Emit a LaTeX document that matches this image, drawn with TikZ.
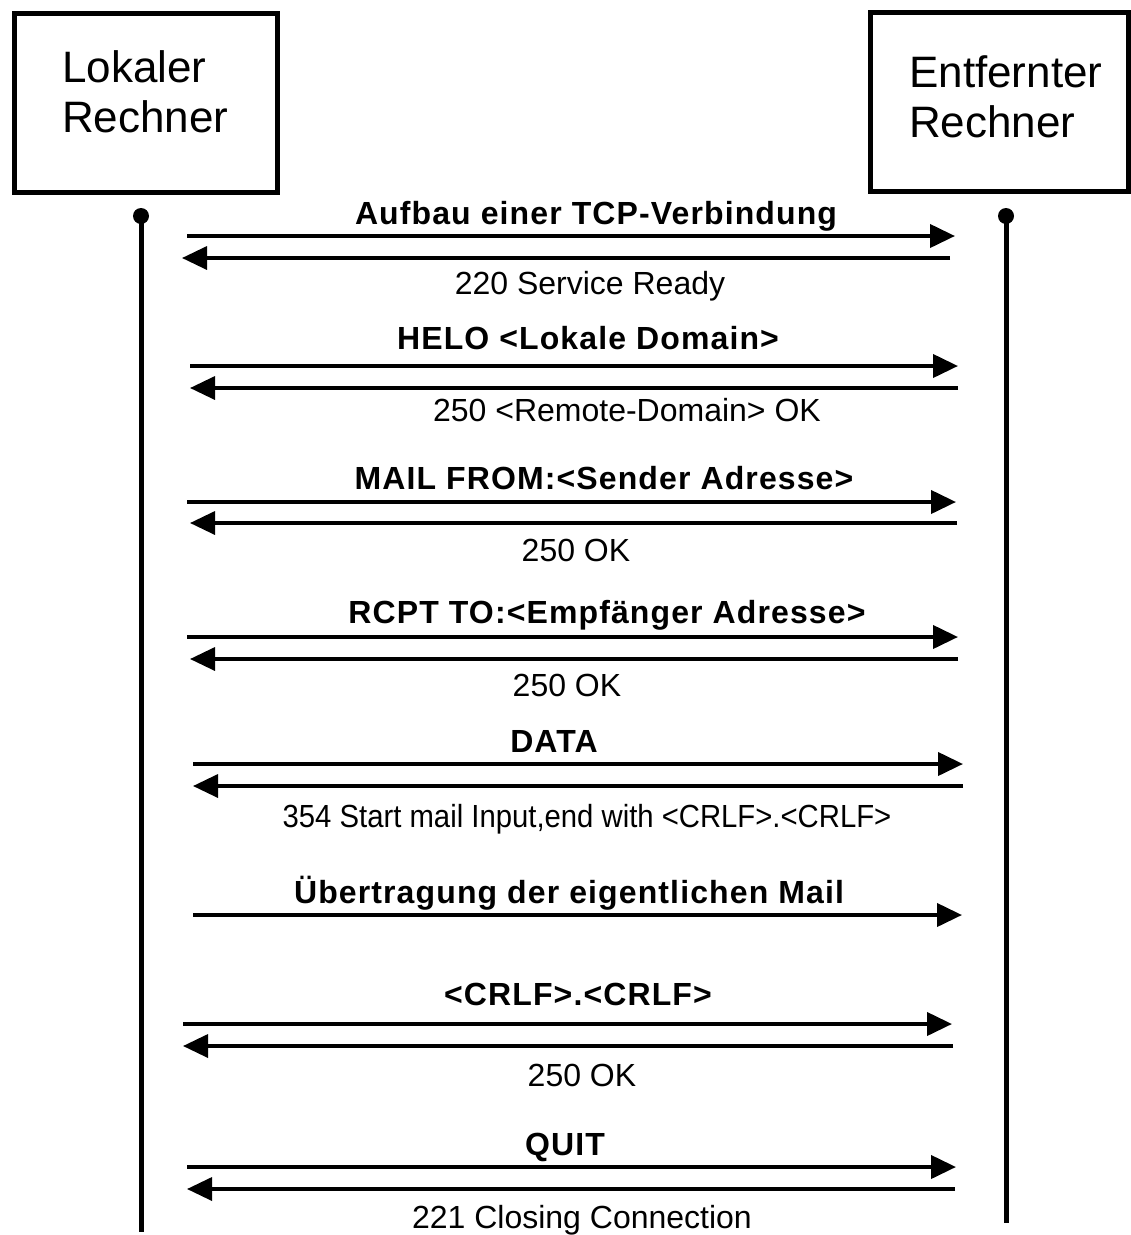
\documentclass[tikz,border=0pt]{standalone}
\usepackage{fontspec}
\setmainfont{Liberation Sans}
\newfontfamily\cmdfont[LetterSpace=3.5]{Liberation Sans}
\newfontfamily\narrowfont[FakeStretch=0.915]{Liberation Sans}
\usetikzlibrary{arrows.meta}
\begin{document}
\begin{tikzpicture}[x=1pt,y=-1pt,
  host/.style={draw,line width=5pt,minimum height=179pt,inner sep=0pt},
  hosttext/.style={anchor=north west,align=left,font=\fontsize{44}{50}\selectfont,inner sep=0pt},
  lifeline/.style={line width=5pt},
  msg/.style={line width=4pt,-{Triangle[length=25pt,width=23pt]}},
  reply/.style={line width=3.5pt,-{Triangle[length=25pt,width=23pt]}},
  cmd/.style={anchor=base,font=\cmdfont\fontsize{32}{38}\selectfont\bfseries,inner sep=0pt},
  resp/.style={anchor=base,font=\fontsize{32}{38}\selectfont,inner sep=0pt}]
\useasboundingbox[fill=white] (0,0) rectangle (1131,1235);

% hosts
\node[host,minimum width=263pt] (local) at (145.5,102.5) {};
\node[hosttext] (localname) at (62,50) {Lokaler\\Rechner};
\node[host,minimum width=258pt] (remote) at (999,101.5) {};
\node[hosttext] (remotename) at (909,55) {Entfernter\\Rechner};

% lifelines
\coordinate (lt) at (141,216);
\coordinate (lb) at (141,1232);
\coordinate (rt) at (1006,216);
\coordinate (rb) at (1006,1223);
\fill (lt) circle (8);
\fill (rt) circle (8);
\draw[lifeline] (lt) -- (lb);
\draw[lifeline] (rt) -- (rb);

% connection setup
\coordinate (a1) at (187,236); \coordinate (b1) at (955,236);
\coordinate (a2) at (182,258); \coordinate (b2) at (950,258);
\draw[msg] (a1) -- (b1);
\draw[reply] (b2) -- (a2);
\node[cmd] (m1) at (596,224) {Aufbau einer TCP-Verbindung};
\node[resp] (r1) at (590,294) {220 Service Ready};

% HELO
\coordinate (a3) at (190,366); \coordinate (b3) at (958,366);
\coordinate (a4) at (190,388); \coordinate (b4) at (958,388);
\draw[msg] (a3) -- (b3);
\draw[reply] (b4) -- (a4);
\node[cmd] (m2) at (588,349) {HELO <Lokale Domain>};
\node[resp] (r2) at (627,421) {250 <Remote-Domain> OK};

% MAIL FROM
\coordinate (a5) at (187,502); \coordinate (b5) at (956,502);
\coordinate (a6) at (190,523); \coordinate (b6) at (957,523);
\draw[msg] (a5) -- (b5);
\draw[reply] (b6) -- (a6);
\node[cmd] (m3) at (604,489) {MAIL FROM:<Sender Adresse>};
\node[resp] (r3) at (576,561) {250 OK};

% RCPT TO
\coordinate (a7) at (187,637); \coordinate (b7) at (958,637);
\coordinate (a8) at (190,659); \coordinate (b8) at (958,659);
\draw[msg] (a7) -- (b7);
\draw[reply] (b8) -- (a8);
\node[cmd] (m4) at (607,623) {RCPT TO:<Empfänger Adresse>};
\node[resp] (r4) at (567,696) {250 OK};

% DATA
\coordinate (a9) at (193,764); \coordinate (b9) at (963,764);
\coordinate (a10) at (193,786); \coordinate (b10) at (963,786);
\draw[msg] (a9) -- (b9);
\draw[reply] (b10) -- (a10);
\node[cmd] (m5) at (554,752) {DATA};
\node[resp,font=\narrowfont\fontsize{32}{38}\selectfont] (r5) at (587,827) {354 Start mail Input,end with <CRLF>.<CRLF>};

% mail body
\coordinate (a11) at (193,915); \coordinate (b11) at (962,915);
\draw[msg] (a11) -- (b11);
\node[cmd] (m6) at (569,903) {Übertragung der eigentlichen Mail};

% end of data
\coordinate (a12) at (183,1024); \coordinate (b12) at (952,1024);
\coordinate (a13) at (183,1046); \coordinate (b13) at (953,1046);
\draw[msg] (a12) -- (b12);
\draw[reply] (b13) -- (a13);
\node[cmd] (m7) at (578,1005) {<CRLF>.<CRLF>};
\node[resp] (r7) at (582,1086) {250 OK};

% QUIT
\coordinate (a14) at (187,1167); \coordinate (b14) at (956,1167);
\coordinate (a15) at (187,1189); \coordinate (b15) at (955,1189);
\draw[msg] (a14) -- (b14);
\draw[reply] (b15) -- (a15);
\node[cmd] (m8) at (565,1155) {QUIT};
\node[resp] (r8) at (582,1228) {221 Closing Connection};
\end{tikzpicture}
\end{document}
